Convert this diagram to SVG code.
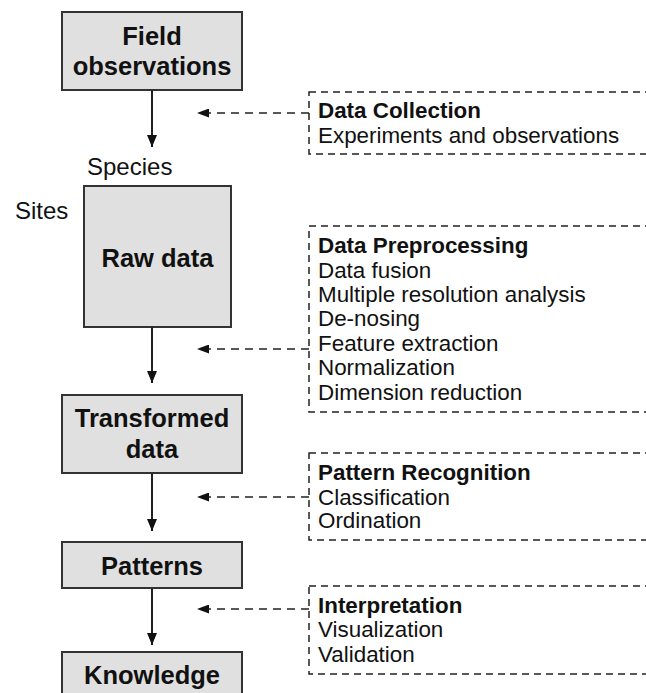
<svg xmlns="http://www.w3.org/2000/svg" width="646" height="693" viewBox="0 0 646 693">
  <style>
    .node rect { fill: #e0e0e0; stroke: #333333; stroke-width: 2; }
    .label { font-family: "Liberation Sans", Arial, sans-serif; font-weight: bold; font-size: 25.5px; fill: #111111; text-anchor: middle; }
    .axis { font-family: "Liberation Sans", Arial, sans-serif; font-size: 24px; fill: #111111; }
    .note rect { fill: none; stroke: #222222; stroke-width: 1.5; stroke-dasharray: 7 5; }
    .note text { font-family: "Liberation Sans", Arial, sans-serif; font-size: 22.4px; fill: #111111; }
    .note .head { font-weight: bold; }
    .flow { stroke: #222222; stroke-width: 2; fill: none; }
    .feed { stroke: #222222; stroke-width: 1.5; stroke-dasharray: 8 6; fill: none; }
  </style>
  <defs>
    <!-- triangle heads drawn along +x, turned by the line direction -->
    <marker id="solidHead" viewBox="0 0 12 10" refX="12" refY="5" markerWidth="12" markerHeight="10" markerUnits="userSpaceOnUse" orient="auto">
      <path d="M0,0 L12,5 L0,10 Z" fill="#111111"/>
    </marker>
    <marker id="dashHead" viewBox="0 0 12 9" refX="12" refY="4.5" markerWidth="12" markerHeight="9" markerUnits="userSpaceOnUse" orient="auto">
      <path d="M0,0 L12,4.5 L0,9 Z" fill="#111111"/>
    </marker>
  </defs>

  <!-- main pipeline nodes -->
  <g id="field-observations" class="node">
    <rect x="62" y="12" width="180" height="78"/>
    <text class="label" x="152" y="45">Field</text>
    <text class="label" x="152" y="75">observations</text>
  </g>

  <g id="raw-data" class="node">
    <rect x="84" y="186" width="147" height="141"/>
    <text class="label" x="157.5" y="267">Raw data</text>
  </g>
  <text class="axis" x="87" y="175">Species</text>
  <text class="axis" x="15" y="219">Sites</text>

  <g id="transformed-data" class="node">
    <rect x="62" y="395" width="180" height="78"/>
    <text class="label" x="152" y="427">Transformed</text>
    <text class="label" x="152" y="458">data</text>
  </g>

  <g id="patterns" class="node">
    <rect x="62" y="542" width="180" height="46"/>
    <text class="label" x="152" y="575">Patterns</text>
  </g>

  <g id="knowledge" class="node">
    <rect x="62" y="652" width="180" height="60"/>
    <text class="label" x="152" y="684">Knowledge</text>
  </g>

  <!-- side notes -->
  <g id="data-collection" class="note">
    <rect x="309" y="92" width="360" height="62"/>
    <text class="head" x="318" y="118">Data Collection</text>
    <text x="318" y="143">Experiments and observations</text>
  </g>

  <g id="data-preprocessing" class="note">
    <rect x="309" y="226" width="360" height="186"/>
    <text class="head" x="318" y="253">Data Preprocessing</text>
    <text x="318" y="278">Data fusion</text>
    <text x="318" y="302">Multiple resolution analysis</text>
    <text x="318" y="326">De-nosing</text>
    <text x="318" y="351">Feature extraction</text>
    <text x="318" y="375">Normalization</text>
    <text x="318" y="400">Dimension reduction</text>
  </g>

  <g id="pattern-recognition" class="note">
    <rect x="309" y="453" width="360" height="87"/>
    <text class="head" x="318" y="480">Pattern Recognition</text>
    <text x="318" y="505">Classification</text>
    <text x="318" y="528">Ordination</text>
  </g>

  <g id="interpretation" class="note">
    <rect x="309" y="586" width="360" height="88"/>
    <text class="head" x="318" y="613">Interpretation</text>
    <text x="318" y="637">Visualization</text>
    <text x="318" y="662">Validation</text>
  </g>

  <!-- connectors -->
  <g id="connectors">
    <line class="flow" x1="152" y1="90" x2="152" y2="147" marker-end="url(#solidHead)"/>
    <line class="flow" x1="152" y1="327" x2="152" y2="383" marker-end="url(#solidHead)"/>
    <line class="flow" x1="152" y1="473" x2="152" y2="531" marker-end="url(#solidHead)"/>
    <line class="flow" x1="152" y1="588" x2="152" y2="645" marker-end="url(#solidHead)"/>

    <path class="feed" d="M309,113 H197" marker-end="url(#dashHead)"/>
    <path class="feed" d="M309,349 H197" marker-end="url(#dashHead)"/>
    <path class="feed" d="M309,497 H197" marker-end="url(#dashHead)"/>
    <path class="feed" d="M309,609 H197" marker-end="url(#dashHead)"/>
  </g>
</svg>
